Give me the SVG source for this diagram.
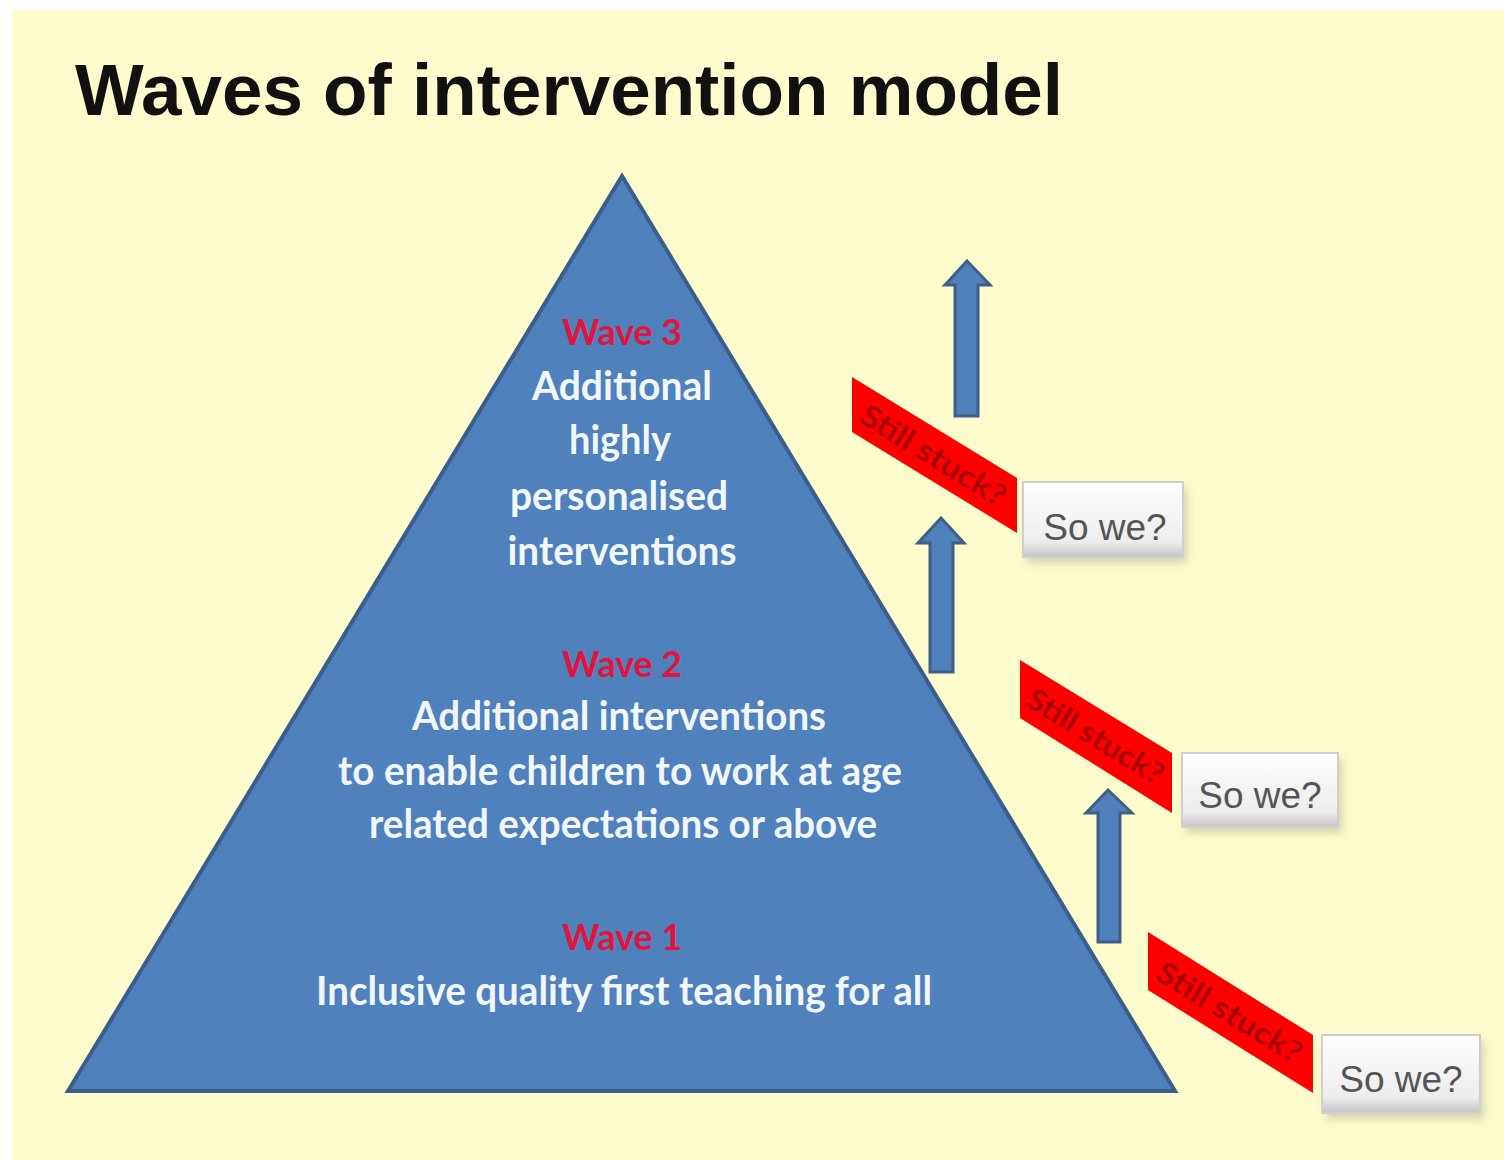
<svg xmlns="http://www.w3.org/2000/svg" width="1504" height="1160" viewBox="0 0 1504 1160">
<defs>
<style>
.tri{fill:#4f81bd;stroke:#3b5f8c;stroke-width:4;stroke-linejoin:miter}
.arr{fill:#4f81bd;stroke:#3e5f86;stroke-width:3}
.ban{fill:#ff0000}
.bant{font-family:Lato,"Liberation Sans",sans-serif;font-weight:bold;font-size:30px;fill:#8a0000;text-anchor:middle;opacity:0.75}
.box{fill:url(#bg);stroke:#cfcfcf;stroke-width:2}
.boxt{font-family:"Liberation Sans",Arial,sans-serif;font-size:37px;fill:#555;text-anchor:middle}
.wave{font-family:Lato,"Open Sans",sans-serif;font-weight:bold;font-size:36px;fill:#e0143c;text-anchor:middle}
.wt{font-family:Lato,"Open Sans",sans-serif;font-weight:bold;font-size:40px;fill:#f2f6ff;text-anchor:middle}
.title{font-family:"Liberation Sans",Arial,sans-serif;font-weight:bold;font-size:72px;fill:#111}
</style>
<linearGradient id="bg" x1="0" y1="0" x2="0" y2="1">
<stop offset="0" stop-color="#ffffff"/>
<stop offset="0.8" stop-color="#ececec"/>
<stop offset="1" stop-color="#c4c4c4"/>
</linearGradient>
<filter id="sh" x="-20%" y="-20%" width="140%" height="160%">
<feGaussianBlur stdDeviation="4"/>
</filter>
</defs>
<rect x="0" y="0" width="1504" height="1160" fill="#ffffff"/>
<rect x="12" y="10" width="1492" height="1150" fill="#fefccc"/>
<text class="title" x="75" y="115" textLength="988" lengthAdjust="spacingAndGlyphs">Waves of intervention model</text>

<g id="pyramid">
<polygon class="tri" points="622,176 68,1091 1175,1091"/>
<text class="wave" x="622" y="345" textLength="120" lengthAdjust="spacingAndGlyphs">Wave 3</text>
<text class="wt" x="622" y="400" textLength="180" lengthAdjust="spacingAndGlyphs">Additional</text>
<text class="wt" x="620" y="454" textLength="102" lengthAdjust="spacingAndGlyphs">highly</text>
<text class="wt" x="619" y="510" textLength="218" lengthAdjust="spacingAndGlyphs">personalised</text>
<text class="wt" x="622" y="565" textLength="229" lengthAdjust="spacingAndGlyphs">interventions</text>
<text class="wave" x="622" y="677" textLength="120" lengthAdjust="spacingAndGlyphs">Wave 2</text>
<text class="wt" x="619" y="730" textLength="414" lengthAdjust="spacingAndGlyphs">Additional interventions</text>
<text class="wt" x="620" y="785" textLength="564" lengthAdjust="spacingAndGlyphs">to enable children to work at age</text>
<text class="wt" x="623" y="838" textLength="508" lengthAdjust="spacingAndGlyphs">related expectations or above</text>
<text class="wave" x="622" y="950" textLength="120" lengthAdjust="spacingAndGlyphs">Wave 1</text>
<text class="wt" x="624" y="1005" textLength="616" lengthAdjust="spacingAndGlyphs">Inclusive quality first teaching for all</text>
</g>

<g id="connectors">
<polygon class="arr" points="967,261 990,285 978,285 978,416 955,416 955,285 945,285"/>
<polygon class="arr" points="941,518 964,543 953,543 953,672 930,672 930,543 918,543"/>
<polygon class="arr" points="1108,790 1132,813 1120,813 1120,942 1098,942 1098,813 1086,813"/>
</g>

<g id="banner1">
<polygon class="ban" points="852,377 1017,478 1017,533 852,432"/>
<text class="bant" x="934" y="466" transform="rotate(31.5 934 455)" textLength="165" lengthAdjust="spacingAndGlyphs">Still stuck?</text>
</g>
<g id="box1">
<rect x="1027" y="488" width="160" height="75" fill="#b8b49a" opacity="0.6" filter="url(#sh)"/>
<rect class="box" x="1023" y="482" width="160" height="75"/>
<text class="boxt" x="1105" y="540">So we?</text>
</g>

<g id="banner2">
<polygon class="ban" points="1020,660 1172,753 1172,813 1020,718"/>
<text class="bant" x="1096" y="747" transform="rotate(31.5 1096 736)" textLength="155" lengthAdjust="spacingAndGlyphs">Still stuck?</text>
</g>
<g id="box2">
<rect x="1186" y="759" width="156" height="74" fill="#b8b49a" opacity="0.6" filter="url(#sh)"/>
<rect class="box" x="1182" y="753" width="156" height="74"/>
<text class="boxt" x="1260" y="808">So we?</text>
</g>

<g id="banner3">
<polygon class="ban" points="1148,932 1313,1035 1313,1093 1148,990"/>
<text class="bant" x="1230" y="1023" transform="rotate(31.5 1230 1012)" textLength="165" lengthAdjust="spacingAndGlyphs">Still stuck?</text>
</g>
<g id="box3">
<rect x="1326" y="1041" width="158" height="78" fill="#b8b49a" opacity="0.6" filter="url(#sh)"/>
<rect class="box" x="1322" y="1035" width="158" height="78"/>
<text class="boxt" x="1401" y="1092">So we?</text>
</g>
</svg>
